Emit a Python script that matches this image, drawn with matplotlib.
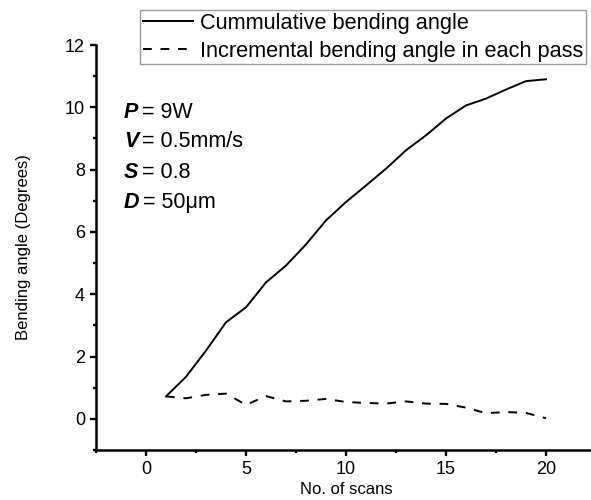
import matplotlib
matplotlib.use("Agg")
import matplotlib.pyplot as plt
from matplotlib.ticker import MultipleLocator

plt.rcParams['font.family'] = ['Liberation Sans', 'DejaVu Sans']

scans = [1, 2, 3, 4, 5, 6, 7, 8, 9, 10, 11, 12, 13, 14, 15, 16, 17, 18, 19, 20]
cumulative = [0.72, 1.35, 2.19, 3.10, 3.58, 4.38, 4.92, 5.60, 6.37, 6.96,
              7.49, 8.03, 8.62, 9.10, 9.64, 10.06, 10.28, 10.57, 10.84, 10.90]
incremental = [0.72, 0.66, 0.77, 0.81, 0.45, 0.73, 0.56, 0.58, 0.64, 0.54,
               0.51, 0.49, 0.56, 0.49, 0.48, 0.36, 0.18, 0.22, 0.19, 0.02]

labels = ["Cummulative bending angle", "Incremental bending angle in each pass"]
params = [("P", "= 9W"), ("V", "= 0.5mm/s"), ("S", "= 0.8"), ("D", "= 50\u03bcm")]
param_y = [9.84, 8.9, 7.92, 6.95]


def main():
    fig = plt.figure(figsize=(5.91, 5.0), dpi=100)
    ax = fig.add_axes([96 / 591, 0.1, 500 / 591, 0.81])

    l1, = ax.plot(scans, cumulative, color="black", lw=1.4)
    l2, = ax.plot(scans, incremental, color="black", lw=1.4,
                  linestyle=(0, (4.5, 4.5)))

    ax.set_xlim(-2.5, 22.5)
    ax.set_ylim(-1, 12)
    ax.xaxis.set_major_locator(MultipleLocator(5))
    ax.xaxis.set_minor_locator(MultipleLocator(2.5))
    ax.yaxis.set_major_locator(MultipleLocator(2))
    ax.yaxis.set_minor_locator(MultipleLocator(1))
    ax.tick_params(which="major", direction="out", length=4.5, width=1.7,
                   labelsize=13)
    ax.tick_params(which="minor", direction="out", length=2.5, width=1.7)
    for side in ["top", "right"]:
        ax.spines[side].set_visible(False)
    for side in ["left", "bottom"]:
        ax.spines[side].set_linewidth(1.8)

    ax.set_xlabel("No. of scans", fontsize=12, labelpad=3)
    ax.set_ylabel("Bending angle (Degrees)", fontsize=12)
    ax.yaxis.set_label_coords(-0.13, 0.5)

    for (sym, rest), y in zip(params, param_y):
        t = ax.text(-1.1, y, sym, fontsize=15.5, fontweight="bold",
                    fontstyle="italic", va="center")
        ax.annotate(rest, xy=(1, 0), xycoords=t, xytext=(2.5, 0),
                    textcoords="offset points", fontsize=15.5,
                    va="bottom", ha="left")

    leg = fig.legend([l1, l2], labels, loc="upper left",
                     bbox_to_anchor=(140 / 591, 1 - 10 / 500),
                     fontsize=15.7, frameon=True, fancybox=False,
                     handlelength=2.3, handletextpad=0.35, labelspacing=0.32,
                     borderpad=0.12, borderaxespad=0)
    leg.get_frame().set_edgecolor("#808080")
    leg.get_frame().set_linewidth(1.0)

    fig.savefig("out.png", dpi=100)


if __name__ == "__main__":
    main()
